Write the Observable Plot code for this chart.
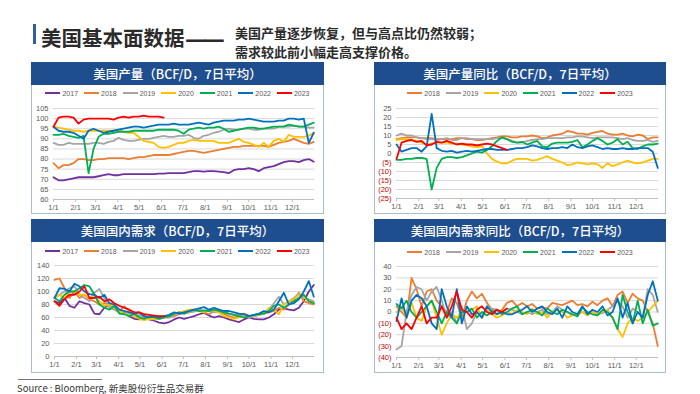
<!DOCTYPE html>
<html><head><meta charset="utf-8">
<script src="https://cdn.jsdelivr.net/npm/d3@7"></script>
<script src="https://cdn.jsdelivr.net/npm/@observablehq/plot@0.6"></script>
<style>
html,body{margin:0;padding:0;background:#fff;}
body{width:700px;height:394px;overflow:hidden;position:relative;font-family:"Noto Sans CJK SC","Noto Sans",sans-serif;}
.abs{position:absolute;}
#bar{left:33px;top:24px;width:3px;height:20px;background:#2f5f9e;}
#title{left:41px;top:23px;font-size:20.5px;font-weight:700;color:#2b2b2b;line-height:28px;white-space:nowrap;}
#title .dash{font-family:"DejaVu Sans",sans-serif;font-size:20px;font-weight:700;letter-spacing:-3px;display:inline-block;transform:scaleX(1.08);transform-origin:left center;}
#sub{left:235px;top:24px;font-size:13px;font-weight:700;color:#2b2b2b;line-height:18.5px;white-space:nowrap;}
.panel{position:absolute;border:1px solid #a9bcd4;box-sizing:border-box;background:#fff;}
.head{position:absolute;left:-1px;right:-1px;top:-1px;height:23px;background:#1f4e8f;color:#fff;font-size:12.5px;font-weight:500;text-align:center;line-height:23px;white-space:nowrap;}
.legend{position:absolute;display:flex;justify-content:center;align-items:center;height:10px;font-family:"Liberation Sans",Arial,sans-serif;font-size:7px;color:#595959;}
.item{display:flex;align-items:center;margin:0 3px;}
.sw{display:inline-block;width:15px;height:2px;margin-right:2px;}
.chart{position:absolute;}
.chart svg{overflow:visible;}
#rule{left:18px;top:379px;width:84px;height:1px;background:#777;}
#src{left:17px;top:381px;font-size:9.5px;color:#333;white-space:nowrap;font-family:"Liberation Sans Narrow","Noto Sans CJK SC",sans-serif;}
</style>
</head>
<body>
<div id="bar" class="abs"></div>
<div id="title" class="abs">美国基本面数据<span class="dash">——</span></div>
<div id="sub" class="abs">美国产量逐步恢复，但与高点比仍然较弱；<br>需求较此前小幅走高支撑价格。</div>
<div id="rule" class="abs"></div>
<div id="src" class="abs">Source : Bloomberg, 新奥股份衍生品交易群</div>
<script>
// ---- shared axes ----
const monthTicks = [0,31,59,90,120,151,181,212,243,273,304,334];
const monthLabels = ["1/1","2/1","3/1","4/1","5/1","6/1","7/1","8/1","9/1","10/1","11/1","12/1"];
const years = ["2017","2018","2019","2020","2021","2022","2023"];
const yearColors = ["#7030a0","#ed7d31","#a5a5a5","#ffc000","#00b050","#0070c0","#ff0000"];
const days = d3.range(0, 365, 7); // weekly sample days (day of year)

// ---- chart titles ----
const titles = ["美国产量（BCF/D，7日平均）","美国产量同比（BCF/D，7日平均）","美国国内需求（BCF/D，7日平均）","美国国内需求同比（BCF/D，7日平均）"];

// ---- y ticks ----
const prodTicks = [60,65,70,75,80,85,90,95,100,105];
const prodYoyTicks = [-25,-20,-15,-10,-5,0,5,10,15,20,25];
const demTicks = [0,20,40,60,80,100,120,140];
const demYoyTicks = [-40,-30,-20,-10,0,10,20,30,40];

// ---- 美国产量 ----
const prod2017 = [71,69.5,69.5,70,70.5,71,71,71,71,71.5, 72,72.5,72,72,72.5,72.5,72.5,72.5,72.5,72.5, 72.5,72.8,72.8,73,73,73,73,73.5,74,74, 73.8,74,74,73.8,73.5,73,74.5,75,75,75.5, 75,74,75.5,76,76.5,77.5,78.5,79,79,78.5, 79.5,80,78.7];
const prod2018 = [78,75.5,77,77,78,80,80,79.5,79.5,80, 80,80.5,80.5,80.5,80.5,80,80.5,81,81,81.5, 82,82,82,82,82.5,83,83.5,84,84,83.5, 83,83.5,84,84.5,85,85.5,86,86,86.5,86.5, 86.5,86.5,86.5,86,87,88,88.5,89,90,89, 88,87.5,88.5];
const prod2019 = [88,87,87,88,87.5,87.5,87.5,87.5,88,88, 87.5,88.5,89,90.5,89.5,89,89,89.5,90,90, 90.5,91,91.5,91,91,91.5,91.5,92,90.5,90, 91.5,92,93,93.5,94.5,95,94.5,94.5,95,95, 94.5,94.5,95,95,95,96,96,96,96.5,96, 96,95.5,95.5];
const prod2020 = [96,95.5,95,94.5,94,94,93.5,94,94,94, 94,94,94,94.5,93.5,93,93,91,89,88.5, 88,86,85.5,86,87,88,88,89,89.5,89, 89,89,89,88,88,88,89,90,88.5,88, 87,86,88,86,89,90,88.5,92,91,91, 91,91.5,93];
const prod2021 = [92,92,92.5,91.5,91,90.5,91.5,73,85,91, 92.5,92.5,93,93.5,93.5,93.5,94,94,94,94, 94,94.5,94.5,94.5,94.5,94,92.5,94.5,95,95.5, 95,95.5,95.5,96,95,93.5,94,94.5,95,95.5, 95.5,95,95,95.5,96,96,96,97,96.5,96, 96,97,98];
const prod2022 = [96,94,93.5,93.5,93,91.5,90,94,95,94, 93,93.5,94,94.5,95,95.5,96,96,95.5,96, 96.5,97,97,97,97.5,97,97,97,97.5,98, 97.5,97,98,98.5,99,99,99,99.5,99.5,100, 99.5,99,98.5,98.5,98.5,99,99,100,100,99.5, 100,88,93];
const prod2023 = [96,100.5,101,101,100.5,97.5,99.5,100,100,100, 100,100,99.5,100.5,101,100.5,101,101,101.5,101, 101,101,100.5];

// ---- 美国产量同比 ----
const prodYoy2018 = [8,8.5,9,9,9,8.5,8.5,8.5,8,8, 8,8,8.5,8.5,8,8,7.5,7.5,8,8.5, 9,9.5,9.5,9,9,9.5,9.5,10,9.5,8.5, 9,10,10.5,11,12.5,12,11,11,10.5,11.5, 12,12.5,11,10.5,10.5,11,10,9.5,10.5,10, 8,9,9];
const prodYoy2019 = [10,11,10,10,9,8.5,8,8,7.5,8, 8.5,7.5,7.5,8.5,8.5,8,8,8,8,8, 8.5,8.5,8,7,6,6,7,7.5,8,8, 8.5,8.5,8.5,8.5,9,9,9.5,9.5,9,8.5, 9,9,9,9,8.5,8,8.5,7.5,7,7, 7.5,6.5,7];
const prodYoy2020 = [7.5,8,8,7.5,7,6,5,5.5,6,6, 6,5.5,5.5,5,4.5,4,3.5,4,0,-3, -4.5,-5.5,-5.5,-4,-3,-3,-3,-4,-3.5,-2.5, -1.5,-3,-4,-5,-6.5,-6,-5,-5.5,-6,-5.5, -6,-8,-5.5,-7,-6,-5,-4,-5,-5.5,-5, -4,-3,-3];
const prodYoy2021 = [-3.5,-3.5,-3,-3,-2.5,-2.5,-3,-20,-8,-3, -2,-2,-2.5,-2,-1,0,1,0.5,2,4, 7,9,8,6.5,6,6.5,5,6,7,4, 3.5,5.5,6,6,6,6.5,7.5,3.5,5,7, 8.5,7,5,6,8,5,6.5,3,2.5,4, 5,5,5.5];
const prodYoy2022 = [5,1,2,3,3,1,4,22,3,1.5, 1,1.5,0.5,1,1.5,1,1.5,2,2.5,2.5, 2,2,2,2.5,3,3,3.5,4.5,4,3, 2.5,3,3,3.5,3,5,3.5,3,4,4.5, 3.5,2.5,3,2.5,2.5,3,2.5,2.5,3,3, 3,1,-8];
const prodYoy2023 = [-3,6,7,7.5,6.5,7,4.5,5,6.5,6, 7,6,5,5.5,5,5,4.5,5,5.5,5, 4,3,2];

// ---- 美国国内需求 ----
const dem2017 = [85,82,90,78,75,85,82,80,66,65, 75,80,74,68,67,62,58,57,58,57, 55,52,51,53,57,60,58,60,62,65, 67,63,60,62,60,57,55,53,57,60, 58,57,57,60,65,72,74,72,71,75, 85,100,110];
const dem2018 = [118,120,105,90,100,90,95,88,85,80, 82,80,75,70,77,70,65,60,62,60, 62,60,62,60,62,65,67,68,70,70, 68,65,70,68,66,62,60,62,66,63, 62,64,66,68,70,75,72,80,88,98, 85,82,80];
const dem2019 = [90,95,100,105,108,95,90,85,98,104, 90,75,72,68,70,66,62,64,60,58, 60,58,60,60,64,66,66,68,69,72, 70,70,68,70,68,66,64,65,62,60, 62,64,68,72,82,92,80,85,90,96, 90,88,85];
const dem2020 = [90,95,90,100,100,95,95,90,95,85, 78,80,75,70,66,64,62,58,56,58, 57,58,60,62,65,68,70,72,72,70, 68,72,70,68,62,60,58,60,62,62, 63,64,66,75,72,65,80,85,88,95, 92,85,82];
const dem2021 = [90,85,95,100,100,105,110,108,95,80, 75,72,78,66,65,62,66,60,58,62, 60,58,60,62,66,68,66,70,72,70, 71,70,72,70,68,66,64,62,60,62, 64,65,66,70,78,80,75,80,85,90, 95,85,82];
const dem2022 = [90,105,104,100,112,108,100,96,95,90, 95,82,80,72,70,68,66,68,62,60, 62,60,62,64,68,66,68,70,72,74, 76,72,75,72,70,70,68,66,65,62, 64,66,70,68,72,85,98,80,82,88, 100,116,92];
const dem2023 = [85,78,88,95,95,100,108,90,90,92, 85,88,82,78,75,72,68,68,65,64, 63,62,62];

// ---- 美国国内需求同比 ----
const demYoy2018 = [5,0,-5,30,20,5,18,20,10,5, 0,12,8,-5,10,18,12,16,8,2, -2,2,8,10,5,8,5,7,3,4, 3,8,7,6,8,10,6,7,5,9, 6,10,12,5,15,18,8,16,12,10, 0,-10,-30];
const demYoy2019 = [-33,-30,0,15,22,20,10,18,22,10, -5,0,-10,5,-15,-10,0,-5,5,3, 2,0,3,2,0,-2,0,-2,0,2, -2,0,5,2,0,-3,-2,0,-2,0, -2,-1,2,5,10,5,-5,3,0,-5, 20,15,0];
const demYoy2020 = [0,5,-5,8,-5,-8,5,10,-5,-20, -10,-2,-5,0,0,2,5,-5,2,-2, -5,-3,0,-2,2,0,-2,3,-2,0, -5,0,2,0,-5,-3,-2,0,-3,0, -2,0,2,-5,-15,-22,-10,-5,-8,-5, 0,5,10];
const demYoy2021 = [7,3,10,0,-5,0,5,10,0,-10, 0,-5,-10,0,0,3,-5,0,-3,0, 2,-2,0,3,5,-2,0,2,0,-3, 3,0,-2,2,0,-2,-4,4,0,-2, -3,2,0,-5,-15,15,0,-10,10,-10, 2,-12,-10];
const demYoy2022 = [-8,12,-5,10,15,12,5,-10,-15,20, 5,-5,20,-10,5,-2,0,-5,5,0, -2,0,-2,-2,0,2,5,0,3,5, 0,-2,3,-5,5,0,-2,5,-2,2, 0,5,-3,0,12,-5,8,-10,0,-5, 15,27,10];
const demYoy2023 = [-5,-15,-10,-15,-5,5,-10,-5,-5,5, -5,5,18,2,0,-5,2,5,0,-2, 2,0,3];

const fmt = d => d < 0 ? `(${-d})` : `${d}`;

function makePanel(left, top, w, h, title) {
  const p = document.createElement("div");
  p.className = "panel";
  Object.assign(p.style, {left: left+"px", top: top+"px", width: w+"px", height: h+"px"});
  const hd = document.createElement("div");
  hd.className = "head"; hd.textContent = title;
  p.appendChild(hd);
  document.body.appendChild(p);
}

function makeLegend(left, top, w, names) {
  const lg = document.createElement("div");
  lg.className = "legend";
  Object.assign(lg.style, {left: left+"px", top: top+"px", width: w+"px"});
  names.forEach(n => {
    const it = document.createElement("span"); it.className = "item";
    const sw = document.createElement("span"); sw.className = "sw";
    sw.style.background = yearColors[years.indexOf(n)];
    const tx = document.createElement("span"); tx.textContent = n;
    it.appendChild(sw); it.appendChild(tx); lg.appendChild(it);
  });
  document.body.appendChild(lg);
}

function makeChart(cfg) {
  const data = [];
  cfg.names.forEach((n, k) => {
    cfg.series[k].forEach((v, i) => { if (days[i] !== undefined) data.push({day: days[i], v, s: n}); });
  });
  const yt = cfg.ticks;
  const svg = Plot.plot({
    width: cfg.w, height: cfg.h,
    marginLeft: cfg.m[0], marginRight: cfg.m[1], marginTop: cfg.m[2], marginBottom: cfg.m[3],
    style: {fontFamily: "'Liberation Sans', Arial, sans-serif", fontSize: "7.5px", color: "#595959", background: "transparent", overflow: "visible"},
    x: {domain: [0, 365]},
    y: {domain: [yt[0], yt[yt.length-1]]},
    color: {domain: years, range: yearColors},
    marks: [
      Plot.gridY(yt, {stroke: "#d9d9d9", strokeOpacity: 1}),
      Plot.ruleY([yt[0]], {stroke: "#bfbfbf"}),
      Plot.axisY(yt, {tickSize: 0, tickPadding: 5, tickFormat: fmt, label: null}),
      Plot.axisX(monthTicks, {tickSize: 3, tickPadding: 2, tickFormat: d => monthLabels[monthTicks.indexOf(d)], label: null}),
      Plot.line(data, {x: "day", y: "v", z: "s", stroke: "s", strokeWidth: 1.8, strokeLinejoin: "round"})
    ]
  });
  const holder = document.createElement("div");
  holder.className = "chart";
  Object.assign(holder.style, {left: cfg.left+"px", top: cfg.top+"px"});
  holder.appendChild(svg);
  document.body.appendChild(holder);
  const s = d3.select(svg);
  s.selectAll('g[aria-label="x-axis tick"] path').attr("stroke", "#bfbfbf");
  s.selectAll('g[aria-label="x-axis tick"]').attr("stroke", "#bfbfbf");
  s.selectAll('g[aria-label="y-axis tick label"] text').each(function() {
    if (this.textContent.startsWith("(")) d3.select(this).attr("fill", "#c00000");
  });
}

// panels
makePanel(31, 62, 293, 152, titles[0]);
makePanel(374, 62, 292, 152, titles[1]);
makePanel(31, 219, 293, 154, titles[2]);
makePanel(374, 219, 292, 154, titles[3]);

const names7 = years;
const names6 = years.slice(1);

makeChart({left: 31, top: 84, w: 293, h: 130, m: [22, 10, 24, 15], ticks: prodTicks, names: names7,
  series: [prod2017, prod2018, prod2019, prod2020, prod2021, prod2022, prod2023]});
makeChart({left: 374, top: 84, w: 292, h: 130, m: [22, 8, 24, 16], ticks: prodYoyTicks, names: names6,
  series: [prodYoy2018, prodYoy2019, prodYoy2020, prodYoy2021, prodYoy2022, prodYoy2023]});
makeChart({left: 31, top: 241, w: 293, h: 132, m: [23, 10, 24, 17], ticks: demTicks, names: names7,
  series: [dem2017, dem2018, dem2019, dem2020, dem2021, dem2022, dem2023]});
makeChart({left: 374, top: 241, w: 292, h: 132, m: [22, 8, 25, 16], ticks: demYoyTicks, names: names6,
  series: [demYoy2018, demYoy2019, demYoy2020, demYoy2021, demYoy2022, demYoy2023]});

makeLegend(31, 88, 293, names7);
makeLegend(374, 88, 292, names6);
makeLegend(31, 246, 293, names7);
makeLegend(374, 247, 292, names6);
</script>
</body></html>
